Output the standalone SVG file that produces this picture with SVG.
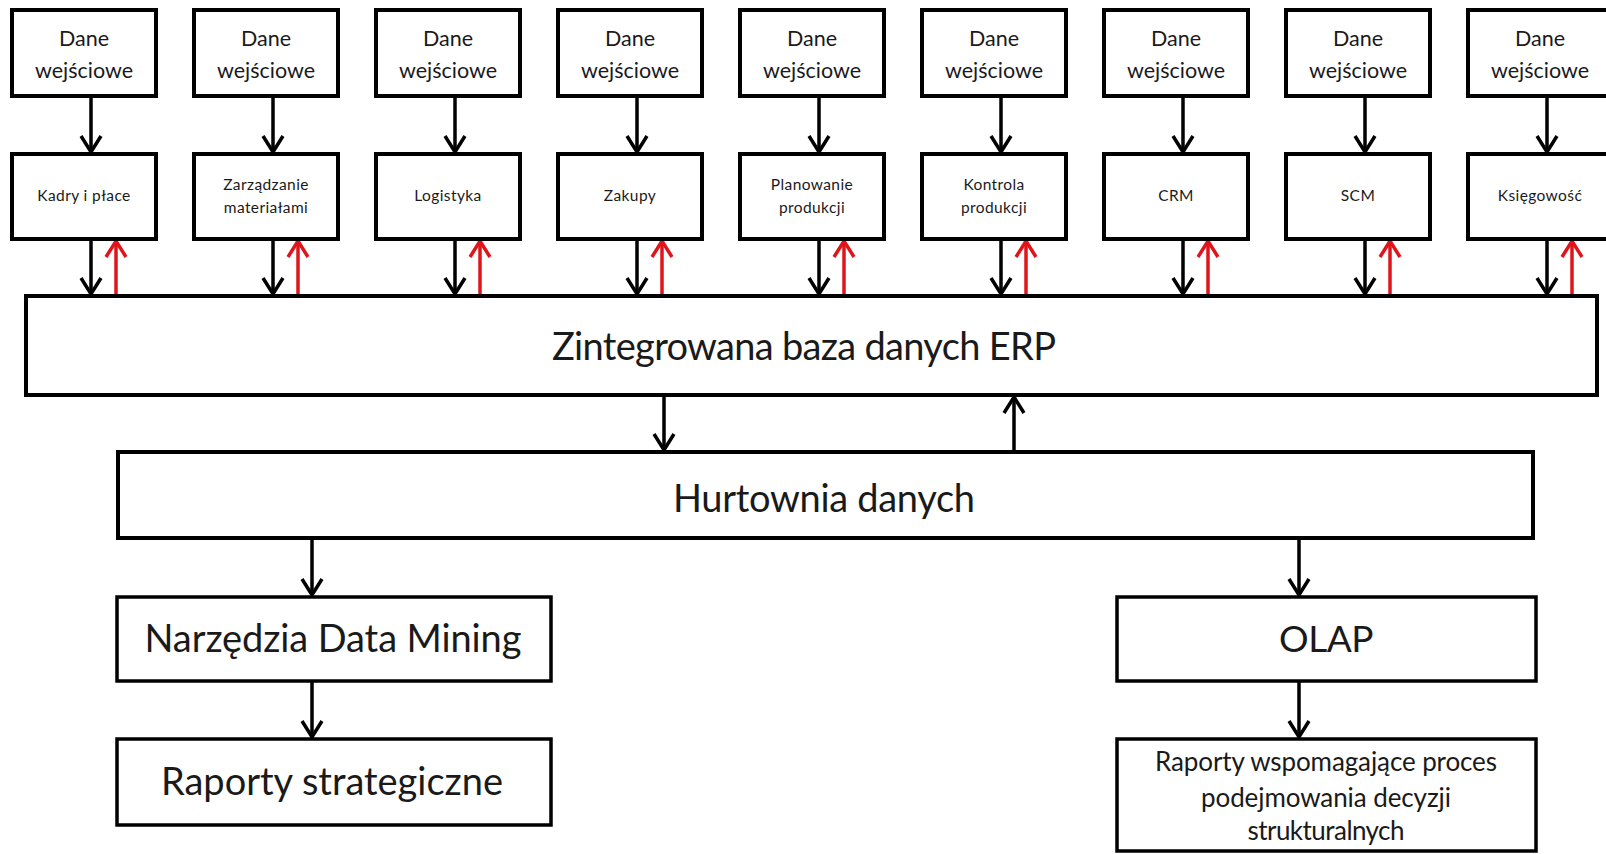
<svg xmlns="http://www.w3.org/2000/svg" width="1606" height="854" viewBox="0 0 1606 854">
<style>
.box{fill:#fff;stroke:#000;stroke-width:4}
.bbox{fill:#fff;stroke:#000;stroke-width:3.5}
text{font-family:Lato,"Open Sans","Liberation Sans",sans-serif;fill:#1a1a1a;text-anchor:middle}
.dane{font-size:21.5px}
.mod{font-size:15.5px;letter-spacing:0.4px}
.big{font-size:38px}
.olap{font-size:37px;letter-spacing:-0.5px}
.mid{font-size:26px}
.a{stroke:#000;stroke-width:3.5;fill:none;marker-end:url(#ah)}
.r{stroke:#e0151b;stroke-width:3.5;fill:none;marker-end:url(#ahr)}
</style>
<defs>
<marker id="ah" markerUnits="userSpaceOnUse" markerWidth="30" markerHeight="30" refX="19" refY="12" orient="auto" overflow="visible">
<path d="M3,2 L19,12 L3,22" fill="none" stroke="#000" stroke-width="3.5"/>
</marker>
<marker id="ahr" markerUnits="userSpaceOnUse" markerWidth="30" markerHeight="30" refX="19" refY="12" orient="auto" overflow="visible">
<path d="M3,2 L19,12 L3,22" fill="none" stroke="#e0151b" stroke-width="3.5"/>
</marker>
</defs>
<rect width="1606" height="854" fill="#fff"/>

<g id="connectors">
<path class="a" d="M91,96 V152"/><path class="a" d="M91,239 V294"/><path class="r" d="M116,296 V241"/>
<path class="a" d="M273,96 V152"/><path class="a" d="M273,239 V294"/><path class="r" d="M298,296 V241"/>
<path class="a" d="M455,96 V152"/><path class="a" d="M455,239 V294"/><path class="r" d="M480,296 V241"/>
<path class="a" d="M637,96 V152"/><path class="a" d="M637,239 V294"/><path class="r" d="M662,296 V241"/>
<path class="a" d="M819,96 V152"/><path class="a" d="M819,239 V294"/><path class="r" d="M844,296 V241"/>
<path class="a" d="M1001,96 V152"/><path class="a" d="M1001,239 V294"/><path class="r" d="M1026,296 V241"/>
<path class="a" d="M1183,96 V152"/><path class="a" d="M1183,239 V294"/><path class="r" d="M1208,296 V241"/>
<path class="a" d="M1365,96 V152"/><path class="a" d="M1365,239 V294"/><path class="r" d="M1390,296 V241"/>
<path class="a" d="M1547,96 V152"/><path class="a" d="M1547,239 V294"/><path class="r" d="M1572,296 V241"/>
<path class="a" d="M664,395 V450"/>
<path class="a" d="M1014,452 V397"/>
<path class="a" d="M312,538 V595"/>
<path class="a" d="M312,681 V737"/>
<path class="a" d="M1299,538 V595"/>
<path class="a" d="M1299,681 V737"/>
</g>

<g id="in1"><rect class="box" x="12" y="10" width="144" height="86"/><text class="dane" x="84" y="46">Dane</text><text class="dane" x="84" y="78">wejściowe</text></g>
<g id="in2"><rect class="box" x="194" y="10" width="144" height="86"/><text class="dane" x="266" y="46">Dane</text><text class="dane" x="266" y="78">wejściowe</text></g>
<g id="in3"><rect class="box" x="376" y="10" width="144" height="86"/><text class="dane" x="448" y="46">Dane</text><text class="dane" x="448" y="78">wejściowe</text></g>
<g id="in4"><rect class="box" x="558" y="10" width="144" height="86"/><text class="dane" x="630" y="46">Dane</text><text class="dane" x="630" y="78">wejściowe</text></g>
<g id="in5"><rect class="box" x="740" y="10" width="144" height="86"/><text class="dane" x="812" y="46">Dane</text><text class="dane" x="812" y="78">wejściowe</text></g>
<g id="in6"><rect class="box" x="922" y="10" width="144" height="86"/><text class="dane" x="994" y="46">Dane</text><text class="dane" x="994" y="78">wejściowe</text></g>
<g id="in7"><rect class="box" x="1104" y="10" width="144" height="86"/><text class="dane" x="1176" y="46">Dane</text><text class="dane" x="1176" y="78">wejściowe</text></g>
<g id="in8"><rect class="box" x="1286" y="10" width="144" height="86"/><text class="dane" x="1358" y="46">Dane</text><text class="dane" x="1358" y="78">wejściowe</text></g>
<g id="in9"><rect class="box" x="1468" y="10" width="144" height="86"/><text class="dane" x="1540" y="46">Dane</text><text class="dane" x="1540" y="78">wejściowe</text></g>

<g id="kadry"><rect class="box" x="12" y="154" width="144" height="85"/><text class="mod" x="84" y="201">Kadry i płace</text></g>
<g id="zarzadzanie"><rect class="box" x="194" y="154" width="144" height="85"/><text class="mod" x="266" y="190">Zarządzanie</text><text class="mod" x="266" y="213">materiałami</text></g>
<g id="logistyka"><rect class="box" x="376" y="154" width="144" height="85"/><text class="mod" x="448" y="201">Logistyka</text></g>
<g id="zakupy"><rect class="box" x="558" y="154" width="144" height="85"/><text class="mod" x="630" y="201">Zakupy</text></g>
<g id="planowanie"><rect class="box" x="740" y="154" width="144" height="85"/><text class="mod" x="812" y="190">Planowanie</text><text class="mod" x="812" y="213">produkcji</text></g>
<g id="kontrola"><rect class="box" x="922" y="154" width="144" height="85"/><text class="mod" x="994" y="190">Kontrola</text><text class="mod" x="994" y="213">produkcji</text></g>
<g id="crm"><rect class="box" x="1104" y="154" width="144" height="85"/><text class="mod" x="1176" y="201">CRM</text></g>
<g id="scm"><rect class="box" x="1286" y="154" width="144" height="85"/><text class="mod" x="1358" y="201">SCM</text></g>
<g id="ksiegowosc"><rect class="box" x="1468" y="154" width="144" height="85"/><text class="mod" x="1540" y="201">Księgowość</text></g>

<g id="erp"><rect class="box" x="26" y="296" width="1571" height="99"/><text class="big" x="804" y="360" textLength="504" lengthAdjust="spacing">Zintegrowana baza danych ERP</text></g>
<g id="hurtownia"><rect class="box" x="118" y="452" width="1415" height="86"/><text class="big" x="824" y="512" textLength="302" lengthAdjust="spacing">Hurtownia danych</text></g>
<g id="datamining"><rect class="bbox" x="117" y="597" width="434" height="84"/><text class="big" x="333" y="652" textLength="377" lengthAdjust="spacing">Narzędzia Data Mining</text></g>
<g id="strategiczne"><rect class="bbox" x="117" y="739" width="434" height="86"/><text class="big" x="332" y="795" textLength="342" lengthAdjust="spacing">Raporty strategiczne</text></g>
<g id="olap"><rect class="bbox" x="1117" y="597" width="419" height="84"/><text class="olap" x="1326" y="652">OLAP</text></g>
<g id="raporty"><rect class="bbox" x="1117" y="739" width="419" height="112"/><text class="mid" x="1326" y="771" textLength="342" lengthAdjust="spacing">Raporty wspomagające proces</text><text class="mid" x="1326" y="807" textLength="250" lengthAdjust="spacing">podejmowania decyzji</text><text class="mid" x="1326" y="840" textLength="157" lengthAdjust="spacing">strukturalnych</text></g>
</svg>
